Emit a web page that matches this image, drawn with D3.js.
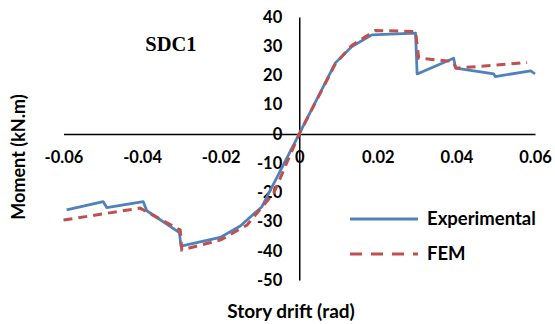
<!DOCTYPE html>
<html>
<head>
  <meta charset="utf-8" />
  <title>SDC1</title>
  <script src="https://cdn.jsdelivr.net/npm/d3@7"></script>
  <style>
    body { margin: 0; background: white; }
    text { font-family: Lato, "Open Sans", sans-serif; font-weight: bold; fill: #000; }
  </style>
</head>
<body>
<div id="vis"></div>
<script>
var w = 555;
var h = 324;

// story drift (rad) and moment (kN.m)
var expDrift = [-0.0592, -0.0499, -0.049, -0.0397, -0.0388, -0.0305, -0.0301, -0.0201, -0.015, -0.0095, 0,
                0.0092, 0.0134, 0.0185, 0.0296, 0.030, 0.0393, 0.0398, 0.0495, 0.0499, 0.0589, 0.060];
var expMoment = [-26.0, -23.2, -25.2, -23.2, -26.3, -33.8, -38.4, -35.4, -31.5, -24.9, 0,
                 24.3, 29.9, 33.9, 34.5, 20.5, 25.9, 22.5, 20.5, 19.6, 21.6, 20.5];

var femDrift = [-0.060, -0.0405, -0.0303, -0.0299, -0.020, -0.0133, -0.0065, 0,
                0.0092, 0.0134, 0.0194, 0.0296, 0.0304, 0.039, 0.040, 0.058];
var femMoment = [-29.5, -25.4, -32.9, -39.7, -36.3, -31.2, -20.3, 0,
                 24.0, 30.3, 35.4, 35.0, 25.9, 24.8, 22.5, 24.4];

var xTicks = [-0.06, -0.04, -0.02, 0, 0.02, 0.04, 0.06];
var yTicks = [-50, -40, -30, -20, -10, 0, 10, 20, 30, 40];

var seriesNames = ["Experimental", "FEM"];
var seriesColors = ["#4F81BD", "#C0504D"];

var x = d3.scaleLinear().domain([-0.06, 0.06]).range([63.5, 535]);
var y = d3.scaleLinear().domain([-50, 40]).range([280, 17]);

var svg = d3.select("#vis").append("svg")
  .attr("width", w)
  .attr("height", h);

// axes cross at zero
var xAxis = svg.append("g")
  .attr("transform", "translate(0," + y(0) + ")")
  .call(d3.axisBottom(x).tickValues(xTicks).tickSize(0).tickPadding(17)
    .tickFormat(function(d) { return d === 0 ? "0" : d.toFixed(2); }));

var yAxis = svg.append("g")
  .attr("transform", "translate(" + x(0) + ",0)")
  .call(d3.axisLeft(y).tickValues(yTicks).tickSize(0).tickPadding(17)
    .tickFormat(function(d) { return String(d); }));

svg.selectAll(".domain").attr("stroke", "#000").attr("stroke-width", 1.5);
svg.selectAll(".tick text").style("font-size", "16.5px").style("font-family", "Lato, sans-serif").style("font-weight", "bold");

var line = d3.line()
  .x(function(d) { return x(d[0]); })
  .y(function(d) { return y(d[1]); });

var expData = d3.zip(expDrift, expMoment);
var femData = d3.zip(femDrift, femMoment);

svg.append("path")
  .datum(expData)
  .attr("d", line)
  .attr("fill", "none")
  .attr("stroke", seriesColors[0])
  .attr("stroke-width", 2.75)
  .attr("stroke-linejoin", "round");

svg.append("path")
  .datum(femData)
  .attr("d", line)
  .attr("fill", "none")
  .attr("stroke", seriesColors[1])
  .attr("stroke-width", 3)
  .attr("stroke-dasharray", "9,6");

// title
svg.append("text")
  .attr("x", 171)
  .attr("y", 51)
  .attr("text-anchor", "middle")
  .style("font-family", "'Liberation Serif', 'Times New Roman', serif")
  .style("font-size", "20.5px")
  .text("SDC1");

// axis titles
svg.append("text")
  .attr("x", 291)
  .attr("y", 318)
  .attr("text-anchor", "middle")
  .style("font-size", "19px")
  .text("Story drift (rad)");

svg.append("text")
  .attr("transform", "translate(25,157) rotate(-90)")
  .attr("text-anchor", "middle")
  .style("font-size", "18px")
  .text("Moment (kN.m)");

// legend
var legend = svg.selectAll(".legend")
  .data(seriesNames)
  .enter().append("g")
  .attr("class", "legend")
  .attr("transform", function(d, i) { return "translate(350," + (219 + i * 35) + ")"; });

legend.append("line")
  .attr("x1", 0).attr("x2", 68)
  .attr("stroke", function(d, i) { return seriesColors[i]; })
  .attr("stroke-width", 3)
  .attr("stroke-dasharray", function(d, i) { return i === 1 ? "12,9" : null; });

legend.append("text")
  .attr("x", 77)
  .attr("dy", "0.35em")
  .style("font-size", "18.5px")
  .text(function(d) { return d; });
</script>
</body>
</html>
